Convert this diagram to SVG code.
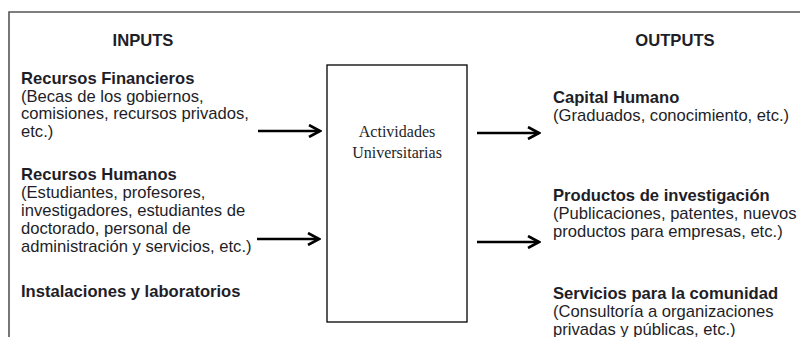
<svg xmlns="http://www.w3.org/2000/svg" width="800" height="337" viewBox="0 0 800 337">
<style>
text{font-family:"Liberation Sans",Arial,sans-serif;font-size:16.6px;fill:#1e1e28}
.b{font-weight:bold}
.h{font-weight:bold;text-anchor:middle}
.serif{font-family:"Liberation Serif","Times New Roman",serif;font-size:16px;text-anchor:middle}
.arrow{stroke:#000;stroke-width:2.6;fill:none;marker-end:url(#chev)}
</style>
<defs>
<marker id="chev" viewBox="0 0 14 14" refX="12.5" refY="7" markerWidth="14" markerHeight="14" markerUnits="userSpaceOnUse" orient="auto">
<path d="M1.5,1 L12.5,7 L1.5,13" fill="none" stroke="#000" stroke-width="2.6" stroke-linejoin="miter"/>
</marker>
</defs>
<rect x="0" y="0" width="800" height="337" fill="#fff"/>
<path d="M9,337 V12 H800" fill="none" stroke="#555" stroke-width="1.6"/>

<g id="inputs-title"><text class="h" x="143" y="46">INPUTS</text></g>
<g id="outputs-title"><text class="h" x="675" y="46">OUTPUTS</text></g>

<g id="recursos-financieros">
<text class="b" x="21" y="84">Recursos Financieros</text>
<text x="21" y="101.5">(Becas de los gobiernos,</text>
<text x="21" y="119">comisiones, recursos privados,</text>
<text x="21" y="137">etc.)</text>
</g>

<g id="recursos-humanos">
<text class="b" x="21" y="180">Recursos Humanos</text>
<text x="21" y="198">(Estudiantes, profesores,</text>
<text x="21" y="216">investigadores, estudiantes de</text>
<text x="21" y="234">doctorado, personal de</text>
<text x="21" y="252">administración y servicios, etc.)</text>
</g>

<g id="instalaciones">
<text class="b" x="21" y="297">Instalaciones y laboratorios</text>
</g>

<g id="actividades">
<rect x="327" y="65" width="140" height="257" fill="#fff" stroke="#000" stroke-width="1.3"/>
<text class="serif" x="397" y="137">Actividades</text>
<text class="serif" x="397" y="158">Universitarias</text>
</g>

<g id="capital-humano">
<text class="b" x="553" y="103">Capital Humano</text>
<text x="553" y="121">(Graduados, conocimiento, etc.)</text>
</g>

<g id="productos">
<text class="b" x="553" y="201">Productos de investigación</text>
<text x="553" y="219">(Publicaciones, patentes, nuevos</text>
<text x="553" y="237">productos para empresas, etc.)</text>
</g>

<g id="servicios">
<text class="b" x="553" y="299">Servicios para la comunidad</text>
<text x="553" y="317">(Consultoría a organizaciones</text>
<text x="553" y="335">privadas y públicas, etc.)</text>
</g>

<g id="connectors">
<line class="arrow" x1="258" y1="131" x2="320" y2="131"/>
<line class="arrow" x1="257" y1="239" x2="319" y2="239"/>
<line class="arrow" x1="477" y1="133" x2="539" y2="133"/>
<line class="arrow" x1="477" y1="242" x2="539" y2="242"/>
</g>
</svg>
